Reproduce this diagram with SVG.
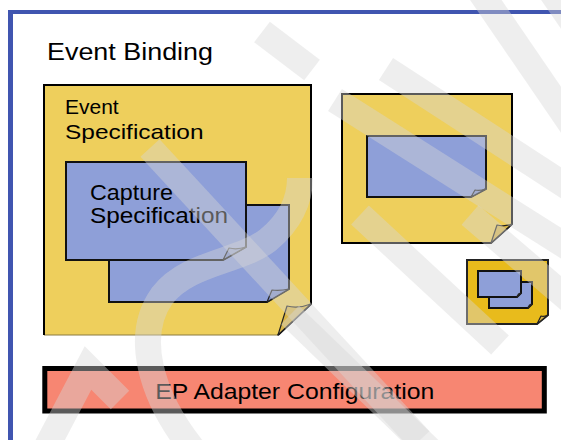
<svg xmlns="http://www.w3.org/2000/svg" width="561" height="440" viewBox="0 0 561 440">
<style>
  .t { font-family: "Liberation Sans", Arial, Helvetica, sans-serif; fill: #000; }
  .yel { fill: #eecf5c; stroke: #000; stroke-width: 2; stroke-linejoin: miter; }
  .gold { fill: #e8bb1c; stroke: #222; stroke-width: 2; }
  .blu { fill: #8e9fd8; stroke: #111; stroke-width: 2; }
  .flapY { fill: #d8b548; stroke: #222; stroke-width: 1.2; stroke-linejoin: round; }
  .flapB { fill: #7f90c8; stroke: #222; stroke-width: 1.2; stroke-linejoin: round; }
  .wm { fill: none; stroke: #d6d6d6; stroke-opacity: 0.42; stroke-width: 26; stroke-linecap: butt; }
</style>
<rect width="561" height="440" fill="#fff"/>
<g id="frame">
  <rect x="8" y="10" width="553" height="4" fill="#4055b0"/>
  <rect x="8" y="10" width="5" height="430" fill="#4055b0"/>
</g>
<g id="title">
  <text class="t" x="47" y="59.5" font-size="23.5" textLength="166" lengthAdjust="spacingAndGlyphs">Event Binding</text>
</g>
<g id="event-specification">
  <path d="M44,85 H311 V304 L278,335 H44 Z" fill="#eecf5c"/>
  <path d="M278,335 H44" fill="none" stroke="#8a7a40" stroke-width="1"/>
  <path d="M44,335 V85 H311 V304 L278,335" fill="none" stroke="#000" stroke-width="2"/>
  <path class="flapY" d="M278,335 L287,306 Q298,309 311,304 Z"/>
  <text class="t" x="65" y="114.3" font-size="21">Event</text>
  <text class="t" x="65" y="138.7" font-size="21" textLength="138.5" lengthAdjust="spacingAndGlyphs">Specification</text>
</g>
<g id="capture-specification-back">
  <path class="blu" d="M109,205 H289 V289 L267,302 H109 Z"/>
  <path class="flapB" d="M267,302 L272,290 Q280,291 289,289 Z"/>
</g>
<g id="capture-specification">
  <path class="blu" d="M66,162 H246 V247 L223,260 H66 Z"/>
  <path class="flapB" d="M223,260 L229,248 Q237,250 246,247 Z"/>
  <text class="t" x="90" y="200" font-size="22" textLength="83" lengthAdjust="spacingAndGlyphs">Capture</text>
  <text class="t" x="90" y="223" font-size="22" textLength="138" lengthAdjust="spacingAndGlyphs">Specification</text>
</g>
<g id="event-specification-2">
  <path class="yel" d="M342,94 H512 V224 L491,243 H342 Z"/>
  <path class="flapY" d="M491,243 L497,225 Q504,227 512,224 Z"/>
</g>
<g id="capture-specification-2">
  <path class="blu" d="M367,136 H486 V189 L471,197 H367 Z"/>
  <path class="flapB" d="M471,197 L475,190 Q480,191 486,189 Z"/>
</g>
<g id="event-specification-3">
  <path class="gold" d="M467,260 H548 V315 L537,324 H467 Z"/>
  <path class="flapY" d="M537,324 L541,316 Q544,317 548,315 Z"/>
  <path class="blu" d="M489,282 H532 V304 L528,308 H489 Z"/>
  <path class="flapB" d="M528,308 L529.5,305 L532,304 Z"/>
  <path class="blu" d="M478,271 H521 V293 L517,297 H478 Z"/>
  <path class="flapB" d="M517,297 L518.5,294 L521,293 Z"/>
</g>
<g id="ep-adapter-configuration">
  <rect x="44.8" y="368.5" width="499.5" height="42.5" fill="#f78672" stroke="#000" stroke-width="5"/>
  <text class="t" x="155.3" y="399" font-size="22" textLength="279" lengthAdjust="spacingAndGlyphs">EP Adapter Configuration</text>
</g>
<g id="watermark">
  <path class="wm" d="M479,-10 L590,152"/>
  <path class="wm" d="M550,-10 L600,62"/>
  <path class="wm" d="M386,69 L600,208"/>
  <path class="wm" d="M262,32 L312,70"/>
  <path class="wm" d="M150,148 L420,440"/>
  <path class="wm" d="M335,100 L575,252"/>
  <path class="wm" d="M360,215 L500,345"/>
  <path class="wm" d="M290,315 L430,450"/>
  <path class="wm" d="M470,215 L575,305"/>
  <path class="wm" d="M45,450 L88,368 L120,400"/>
  <path class="wm" d="M192,448 C150,395 134,335 162,296 C188,262 240,262 268,240 C290,222 300,200 300,178"/>
</g>
</svg>
